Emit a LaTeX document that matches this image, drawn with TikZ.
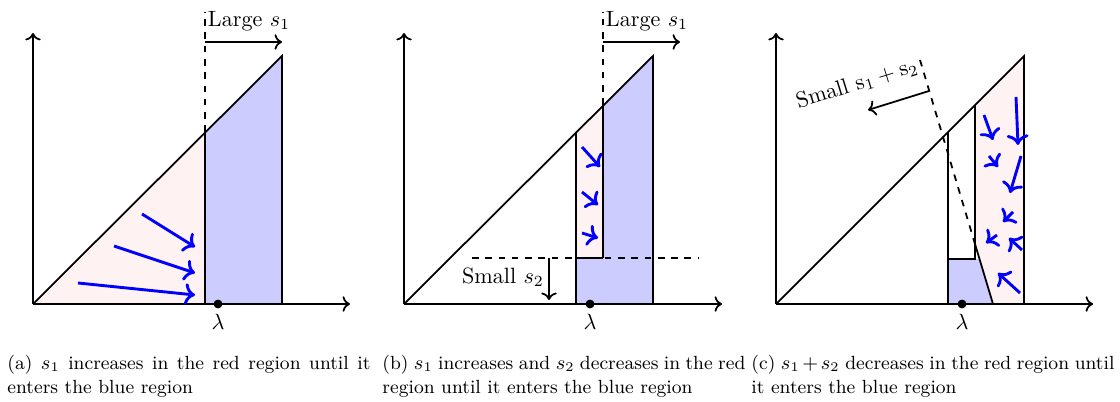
\documentclass[tikz,border=0pt]{standalone}
\usepackage{amsmath}
\usetikzlibrary{arrows.meta}
\begin{document}
\begin{tikzpicture}[x=0.4518pt,y=-0.4518pt,
  ln/.style={thick},
  ax/.style={thick,->},
  flow/.style={blue,line width=1.3pt,-{To[scale=1.05]}},
  dsh/.style={thick,dashed},
  bluereg/.style={fill=blue!20},
  redreg/.style={fill=red!5},
  lbl/.style={font=\fontsize{10}{12}\selectfont, inner sep=1pt},
  captext/.style={text width=164pt, align=justify, font=\fontsize{8.6}{10.6}\selectfont, inner sep=0pt, anchor=north west},
  dotnode/.style={circle, fill, inner sep=0pt, minimum size=4pt}]
\useasboundingbox (0,0) rectangle (1120,402);

% ---------------- panel (a)
\fill[redreg] (33,304) -- (205,132) -- (205,304) -- cycle;
\fill[bluereg] (205,304) -- (205,132) -- (282,56) -- (282,304) -- cycle;
\draw[ax] (33,304) -- (33,33);
\draw[ax] (33,304) -- (350,304);
\draw[ln] (33,304) -- (282,56) -- (282,304);
\draw[ln] (205,304) -- (205,132);
\draw[dsh] (205,132) -- (205,12);
\draw[thick,->] (205,42) -- (282,42);
\node[lbl] (La) at (249,21) {Large $s_1$};
\draw[flow] (142,214) -- (195,247);
\draw[flow] (114,246) -- (195,273);
\draw[flow] (78,283) -- (195,295);
\node[dotnode] (da) at (218,304) {};
\node[lbl] (lama) at (218,322) {$\lambda$};

% ---------------- panel (b)
\fill[redreg] (576,258) -- (576,132) -- (603,105) -- (603,258) -- cycle;
\fill[bluereg] (576,304) -- (576,258) -- (603,258) -- (603,105) -- (653,56) -- (653,304) -- cycle;
\draw[ax] (404,304) -- (404,33);
\draw[ax] (404,304) -- (722,304);
\draw[ln] (404,304) -- (653,56) -- (653,304);
\draw[ln] (576,304) -- (576,132);
\draw[ln] (603,258) -- (603,105);
\draw[dsh] (603,105) -- (603,12);
\draw[dsh] (472,258) -- (698,258);
\draw[ln] (576,258) -- (603,258);
\draw[thick,->] (603,42) -- (680,42);
\node[lbl] (Lb) at (647,21) {Large $s_1$};
\draw[thick,->] (549,258) -- (549,300);
\node[lbl] (Sb) at (503,277) {Small $s_2$};
\draw[flow] (582,147) -- (600,167);
\draw[flow] (582,192) -- (598,205);
\draw[flow] (582,233) -- (598,238);
\node[dotnode] (db) at (590,304) {};
\node[lbl] (lamb) at (590,322) {$\lambda$};

% ---------------- panel (c)
\fill[redreg] (975,105) -- (1024,56) -- (1024,304) -- (993,304) -- (975,244) -- cycle;
\fill[bluereg] (948,304) -- (948,259) -- (980,259) -- (993,304) -- cycle;
\draw[ax] (776,304) -- (776,33);
\draw[ax] (776,304) -- (1093,304);
\draw[ln] (776,304) -- (1024,56) -- (1024,304);
\draw[ln] (948,304) -- (948,132);
\draw[ln] (948,259) -- (975,259) -- (975,105);
\draw[dsh] (920,60) -- (975,244);
\draw[ln] (975,244) -- (993,304);
\draw[thick,->] (929,91) -- (868,110);
\node[lbl, rotate=17, inner sep=0pt] (Sc) at (857,84) {Small $\mathrm{s}_1+\mathrm{s}_2$};
\draw[flow] (984,115) -- (993,140);
\draw[flow] (1016,97) -- (1018,145);
\draw[flow] (989,156) -- (998,167);
\draw[flow] (1021,156) -- (1010,193);
\draw[flow] (1013,212) -- (1003,222);
\draw[flow] (997,235) -- (986,243);
\draw[flow] (1022,250) -- (1009,238);
\draw[flow] (1020,293) -- (998,273);
\node[dotnode] (dc) at (962,304) {};
\node[lbl] (lamc) at (962,322) {$\lambda$};

% ---------------- captions
\node[captext] (capa) at (7,355) {(a) $s_1$ increases in the red region until it\linebreak enters the blue region};
\node[captext] (capb) at (382,355) {(b) $s_1$ increases and $s_2$ decreases in the red\linebreak region until it enters the blue region};
\node[captext] (capc) at (751,355) {(c) $s_1+s_2$ decreases in the red region until\linebreak it enters the blue region};
\end{tikzpicture}
\end{document}
